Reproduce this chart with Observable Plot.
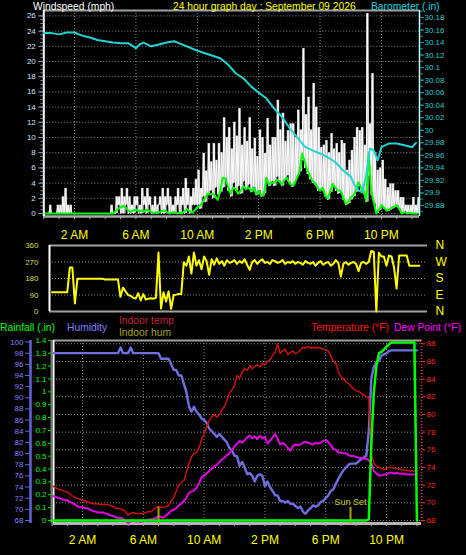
<!DOCTYPE html>
<html><head><meta charset="utf-8">
<script src="https://cdn.jsdelivr.net/npm/d3@7"></script>
<script src="https://cdn.jsdelivr.net/npm/@observablehq/plot@0.6"></script>
<style>
html,body{margin:0;padding:0;background:#000;}
#chart{position:relative;width:466px;height:555px;background:#000;overflow:hidden;}
#chart svg{position:absolute;left:0;top:0;}
</style></head><body><div id="chart"></div>
<script>
// ---------- DATA (10-minute slots, hour = index/6) ----------
const gustHi = [0,0,1.1,0,0,1.1,1.1,2.2,3.3,1.1, 1.1, 0,0,0,0,0,0,0,0,0,0,0,0,0,0,0, 1.1, 0,
 2.2,2.2,3.3,2.2,3.3,2.2,1.1,2.2,2.2,1.1,3.3,2.2,
 3.3,2.2,1.1,2.2,1.1,2.2,3.3,2.2,3.3,2.2,
 1.1,2.2,3.3,2.2,3.3,4.6,3.3,2.2,3.3,4.5,
 5.7,3.3,7.9,5.6,9.2,6.8,9.2,7.0,9.2,8.0,
 12.6,10.0,11.3,8.5,12.0,10.2,13.8,9.0,11.3,9.5,
 12.6,8.5,9.9,7.5,11.0,10.0,7.9,12.5,9.0,10.0,
 10.0,14.9,11.0,13.2,9.5,10.9,11.8,11.8,10.0,13.6,
 11.0,21.7,13.0,15.3,11.0,17.1,14.0,11.3,8.7,9.0,
 9.6,8.0,10.5,8.5,9.2,8.0,9.6,9.2,5.7,7.0,
 8.3,10.0,11.3,10.9,11.3,9.0,26.3,11.8,18.4,8.0,
 5.7,6.0,7.0,4.5,3.4,3.9,3.9,3.0,3.0,2.1,
 2.1,1.1,1.1,1.1,2.1,1.1,2.1];
const gustLo = [0,0,0,0,0,0,0,0,0,0,0,0,0,0,0,0,0,0,0,0,0,0,0,0,0,0,0,0,
 0,1.1,0,0,1.1,0,0,0,1.1,0,0,1.1,
 0,1.1,0,0,0,1.1,0,0,1.1,0,
 0,0,1.1,0,1.1,0,1.1,0,1.1,1.1,
 1.1,0.6,2.2,1.5,2.6,3.0,2.0,3.4,2.5,2.8,
 3.4,4.5,3.0,2.2,4.0,3.0,3.6,2.6,4.2,3.2,
 3.8,2.8,3.4,2.4,3.0,2.2,2.6,4.5,3.6,4.2,
 3.6,4.8,4.2,3.6,4.5,5.0,4.0,3.5,4.2,5.0,
 5.5,7.0,6.0,5.2,4.5,4.0,3.8,3.0,3.2,3.0,
 2.2,1.8,2.8,3.5,3.0,2.6,2.8,1.8,1.1,1.3,
 1.8,2.2,2.8,3.6,3.0,2.6,1.5,5.0,2.4,1.3,
 0,0.4,1.0,0.6,0.3,0.4,0.6,0.8,1.0,0.5,
 0,0.2,0,0,0,0,0];
const windAvg = [0,0,0,0,0,0,0,0,0,0,0,0,0,0,0,0,0,0,0,0,0,0,0,0,0,0,0,0,
 0.3,0.6,0.8,1.0,0.8,0.4,0.2,0.4,0.5,0.3,0.4,0.2,
 0.5,0.4,0.2,0.0,0.2,0.1,0.3,0.4,0.2,0.0,
 0.1,0.2,0.0,0.1,0.0,0.3,0.6,0.3,0.1,0.4,
 0.8,1.0,1.4,2.0,2.6,2.5,2.6,2.3,1.8,3.0,
 4.7,4.6,3.6,2.6,3.4,3.2,2.6,3.0,3.6,3.2,
 3.4,3.0,3.4,2.6,3.0,2.4,2.4,4.7,3.8,4.1,
 4.0,4.4,4.3,3.8,4.4,4.7,4.0,3.7,3.9,4.7,
 5.5,7.9,6.8,5.7,5.0,4.3,4.0,3.4,3.0,3.4,
 2.4,2.0,3.0,3.9,3.4,3.0,3.0,2.2,1.3,1.5,
 2.1,2.4,3.0,4.1,3.4,3.0,1.7,7.9,3.0,1.5,
 0.0,0.5,1.1,0.8,0.4,0.5,0.8,0.9,1.1,0.6,
 0.0,0.2,0.0,0.1,0.0,0.0,0.0];
const baroHours = [0,0.5,1,1.5,2,2.5,3,3.5,4,4.5,5,5.5,6,6.25,6.5,7,7.5,8,8.5,9,9.5,10,10.5,11,11.5,12,12.5,13,13.5,14,14.5,15,15.5,16,16.5,17,17.5,18,18.5,19,19.5,20,20.25,20.5,20.75,21,21.25,21.5,21.75,22,22.5,23,23.5,24,24.25];
const baroValues = [30.155,30.155,30.153,30.156,30.156,30.151,30.148,30.144,30.142,30.140,30.139,30.139,30.131,30.137,
 30.140,30.134,30.137,30.140,30.142,30.137,30.132,30.127,30.123,30.119,30.115,30.105,30.091,30.083,30.070,30.060,30.051,30.035,30.022,30.004,29.989,29.974,29.968,29.963,29.957,29.949,29.936,29.926,
 29.912,29.904,29.901,29.928,29.971,29.968,29.952,29.973,29.979,29.979,29.976,29.973,29.980];
const windDir = [105,105,105,105,105,105,105, 240,240, 44,
 178,178,178,178,178,178,178,178,178,178,178, 175,175,175,175,175,175,
 80,130,110,90,85,75,70,100,60,95,65,70,72,70,75,
 322,16,105,55,110,15,90,92,95,95,
 268,250,300,207,322,250,280,230,300,275,200,285,255,290,260,275,250,280,265,270,
 280,260,275,265,285,255,227,270,280,260, 275,285,265,270,260,280,275,265,270,280,
 260,270,265,275,260,270,265,255,275,265, 260,270,250,265,275,255,265,270,250,260,
 280,265,190,260,270,255,265,270,260,220, 265,270,260,270,
 330,325,0,320,300,300,250,305,300,240,125,305,305,305,305,250,250,250,250,250];
const humidity = [98,98,98,98,98,98,98,98,98,98,98,98,98,98,98,98,98,98,98,98,98,98,98,98,98,98,98,
 99,98,98,98,99,98,98, 98,98,98,98,98,98,98,98,98, 97,97,97,97,
 96,95,95,94,94,92.5,91,
 88.5,87.5,88.4,87.5,87,86.3,86,85.5,84.5,84,
 83.5,83,83.5,83,82.5,82,81,80.5,79.6,79.5,
 77.8,78.5,77.5,76.3,76.5,76,75,76,76.3,76,
 74.2,75,74,73.3,72.5,72.5,71.5,71.5,71.2,71.5,
 71,71,70.6,70.2,70.5,69.6,69.2,69.8,70.2,70.7,
 70.5,70.7,71.3,71.5,72,72.5,73.3,73.6,74.6,75.5,
 76.3,77,77.5,78,78.2,78.2,78.2,78.6,79,79.3,
 79.6,84,93.5,95.5,96.4,96.6,97.6,97.8,98,98.4,
 98.5,98.5,98.5,98.5,98.5,98.5,98.5,98.5,98.5,98.5,98.5];
const temperature = [71.9,71.8,71.6,71.5,71.4,71.3,71.2,71.0,70.8,70.6,
 70.5,70.4,70.3,70.2,70.1,70.0,69.9,69.9,69.9,69.8,
 69.8,69.8,69.8,69.7,69.6,69.4,69.4,69.3,69.2,69.0,
 68.6,68.8,68.9,68.8,68.8,68.8,68.8,68.9,69.0,69.0,
 69.2,69.5,69.6,69.5,69.5,69.6,69.7,70.2,70.6,71.3,
 72.0,72.3,72.5,73.5,74.4,75.2,75.6,75.7,76.2,77.2,
 77.8,78.6,79.3,79.7,80.0,79.7,80.0,80.5,80.9,81.6,
 82.4,82.8,83.3,84.4,84.1,84.8,85.2,85.0,85.5,85.2,
 85.4,85.6,85.4,85.8,85.6,86.0,86.2,86.7,87.0,88.0,
 86.9,87.2,87.4,86.8,87.0,87.2,86.9,87.0,87.3,87.6,
 87.5,87.7,87.5,87.6,87.5,87.6,87.5,87.4,87.3,87.2,
 86.6,86.0,85.8,84.8,84.3,84.0,83.7,83.5,83.2,82.9,
 82.7,82.6,82.4,82.2,82.0,81.9,75.5,74.5,74.2,74.0,
 73.9,73.8,73.9,74.0,74.0,73.9,73.9,73.8,73.8,73.7,
 73.7,73.6,73.6,73.6,73.6];
const dewPoint = [70.8,70.7,70.6,70.5,70.4,70.3,70.3,70.1,70.0,69.8,
 69.6,69.5,69.5,69.4,69.4,69.2,69.1,69.0,68.9,68.9,
 68.9,68.8,68.7,68.6,68.5,68.4,68.3,68.3,68.2,68.0,
 67.7,67.9,68.0,67.9,67.9,67.9,67.9,68.0,68.1,68.1,
 68.2,68.3,68.5,68.4,68.3,68.6,68.8,69.1,69.2,69.4,
 69.7,69.9,70.2,70.6,71.1,71.3,71.4,71.7,72.2,72.9,
 73.1,73.3,73.6,73.9,74.1,74.3,74.6,74.9,75.1,75.4,
 75.6,76.0,76.4,76.7,77.0,76.8,77.1,77.4,77.6,77.3,
 77.5,77.2,77.6,77.3,77.5,76.7,77.0,77.4,77.8,77.2,
 76.6,76.8,76.6,76.2,75.9,76.4,76.6,76.5,76.6,76.8,
 76.9,76.8,76.7,76.6,76.8,76.7,76.8,77.0,77.1,76.9,
 76.5,76.1,76.0,75.7,75.7,75.6,75.6,75.4,75.3,75.3,
 75.2,75.1,75.1,75.0,75.0,74.8,74.5,73.6,73.3,73.1,
 73.1,73.2,73.2,73.4,73.4,73.3,73.4,73.3,73.3,73.3,
 73.2,73.2,73.2,73.2,73.2];
const rainfall = [...Array(125).fill(0), 0.01,0.6,1.0,1.2,1.3,1.31,1.33,1.35,1.37,
 1.383,1.383,1.383,1.383,1.383,1.383,1.383,1.383,1.383,1.383, 0];
const sunEvents = [{h: 7.0, label: ""}, {h: 19.63, label: "Sun Set"}];

const hourTicks = d3.range(0, 25);
const labelHours = [2, 6, 10, 14, 18, 22];
const windTicks = [0,2,4,6,8,10,12,14,16,18,20,22,24,26];
const baroTicks = [29.88,29.9,29.92,29.94,29.96,29.98,30,30.02,30.04,30.06,30.08,30.1,30.12,30.14,30.16,30.18];
const dirTicks = [0,90,180,270,360];
const compass = ["N","E","S","W","N"];
const humTicks = [68,70,72,74,76,78,80,82,84,86,88,90,92,94,96,98,100];
const rainTicks = [0,0.1,0.2,0.3,0.4,0.5,0.6,0.7,0.8,0.9,1,1.1,1.2,1.3,1.4];
const tempTicks = [68,70,72,74,76,78,80,82,84,86,88];

// ---------- tables built from the arrays ----------
const slot = i => i / 6;
const gustBars = gustHi.map((v, i) => ({t: slot(i) + 1/12, lo: gustLo[i], hi: v}));
const gustZig = gustHi.flatMap((v, i) => [{t: slot(i), v: gustLo[i]}, {t: slot(i) + 1/12, v}]);
const avgRows = windAvg.map((v, i) => ({t: slot(i), v}));
const baroRows = baroHours.map((h, i) => ({t: h, v: baroValues[i]}));
const dirRows = windDir.map((v, i) => ({t: slot(i), v}));
const humRows = humidity.map((v, i) => ({t: slot(i), v}));
const tempRows = temperature.map((v, i) => ({t: slot(i), v}));
const dewRows = dewPoint.map((v, i) => ({t: slot(i), v}));
const rainRows = rainfall.map((v, i) => ({t: slot(i), v}));
const hourLabel = h => h < 12 ? `${h === 0 ? 12 : h} AM` : `${h === 12 ? 12 : h - 12} PM`;

// ---------- layout helpers ----------
const FONT = '"Liberation Sans", Arial, sans-serif';
const GRID = "#8a8a8a";
const dotted = {stroke: GRID, strokeDasharray: "1,2", strokeWidth: 1};
const chart = document.getElementById("chart");
function layer(opts) {
  const el = Plot.plot(Object.assign({width: 466, height: 555,
    style: {background: "transparent", fontFamily: FONT, overflow: "visible", maxWidth: "none"}}, opts));
  el.style.position = "absolute"; el.style.left = "0px"; el.style.top = "0px";
  chart.appendChild(el);
}
const blank = () => "";

// Panel 1 : wind + barometer
const X1 = [0, 24.48];
const WY = [-0.394, 26.71];
const BY = [29.8624, 30.1911];
const m1 = {marginLeft: 43.3, marginRight: 47, marginTop: 10, marginBottom: 339};
layer({...m1, x: {domain: X1, label: null}, y: {domain: WY, label: null},
  marks: [
    Plot.ruleY(windTicks, dotted),
    Plot.ruleX(labelHours, dotted),
    Plot.ruleX(gustBars, {x: "t", y1: "lo", y2: "hi", stroke: "#c4c4c4", strokeWidth: 2.6}),
    Plot.line(gustZig, {x: "t", y: "v", stroke: "#ffffff", strokeWidth: 1}),
    Plot.line(avgRows, {x: "t", y: "v", stroke: "#00ff00", strokeWidth: 2}),
    Plot.ruleY([WY[1]], {stroke: "#a0a0a0", strokeWidth: 2}),
    Plot.ruleY([WY[0]], {stroke: "#a8a8a8", strokeWidth: 2.5}),
    Plot.ruleX([X1[0]], {stroke: "#ffffff", strokeWidth: 2}),
    Plot.axisY({ticks: windTicks, label: null, tickSize: 5, tickPadding: 3, fontSize: 8, fill: "#cfe0ff", stroke: "#9aa8c8", tickFormat: d => String(d)}),
    Plot.axisY({ticks: d3.range(0, 26.5, 0.5), label: null, tickSize: 3, stroke: "#7a88a8", tickFormat: blank}),
    Plot.axisX({ticks: hourTicks, label: null, tickSize: 3, stroke: "#b0b0b0", tickFormat: blank}),
    Plot.axisX({ticks: labelHours, label: null, tickSize: 0, tickPadding: 14, fontSize: 12, fill: "#ffff00", tickFormat: hourLabel})
  ]});
layer({...m1, x: {domain: X1, axis: null, label: null}, y: {domain: BY, axis: null, label: null},
  marks: [
    Plot.line(baroRows, {x: "t", y: "v", stroke: "#22d4d4", strokeWidth: 2}),
    Plot.ruleX([X1[1]], {stroke: "#bff", strokeWidth: 1.5}),
    Plot.axisY({anchor: "right", label: null, ticks: baroTicks, tickSize: 4, tickPadding: 1, fontSize: 8, fill: "#22cccc", stroke: "#1aa0a0", tickFormat: d => String(+d.toFixed(2))}),
    Plot.axisY({anchor: "right", label: null, ticks: d3.range(29.87, 30.19, 0.01), tickSize: 3, stroke: "#1a9a9a", tickFormat: blank})
  ]});

// Panel 2 : wind direction
const X2 = [-0.17, 24.7];
layer({marginLeft: 49, marginRight: 39, marginTop: 245, marginBottom: 244,
  x: {domain: X2, axis: null, label: null}, y: {domain: [0, 360], label: null},
  marks: [
    Plot.ruleY([90, 180, 270], dotted),
    Plot.ruleY([0, 360], {stroke: "#a0a0a0", strokeWidth: 2}),
    Plot.ruleX([X2[0]], {stroke: "#ffffff", strokeWidth: 2}),
    Plot.line(dirRows, {x: "t", y: "v", stroke: "#ffff00", strokeWidth: 2}),
    Plot.axisY({ticks: dirTicks, label: null, tickSize: 0, tickPadding: 11, fontSize: 8, fill: "#d8d850", tickFormat: d => String(d)}),
    Plot.axisY({anchor: "right", label: null, ticks: dirTicks, tickSize: 0, tickPadding: 8, fontSize: 12, fill: "#ffff00", tickFormat: d => compass[dirTicks.indexOf(d)]})
  ]});

// Panel 3 : humidity, rainfall, temperature, dew point
const X3 = [0.09, 24.3];
const TY = [67.66, 88.37];
const HY = [67.46, 100.27];
const RY = [-0.0233, 1.399];
const m3 = {marginLeft: 53, marginRight: 45, marginTop: 340, marginBottom: 32};
layer({...m3, x: {domain: X3, label: null}, y: {domain: TY, label: null},
  marks: [
    Plot.ruleY(tempTicks, dotted),
    Plot.ruleX(labelHours, dotted),
    Plot.ruleY([TY[1]], {stroke: "#a0a0a0", strokeWidth: 2}),
    Plot.ruleY([TY[0]], {stroke: "#b4b4b4", strokeWidth: 3}),
    Plot.ruleX([X3[0]], {stroke: "#ffffff", strokeWidth: 2}),
    Plot.ruleX([X3[1]], {stroke: "#ff3030", strokeWidth: 1.5, strokeDasharray: "1,2"}),
    Plot.axisY({anchor: "right", label: null, ticks: tempTicks, tickSize: 3, tickPadding: 2, fontSize: 8, fill: "#ff2020", stroke: "#ff3030", tickFormat: d => String(d)}),
    Plot.axisX({ticks: hourTicks, label: null, tickSize: 3, stroke: "#b0b0b0", tickFormat: blank}),
    Plot.axisX({ticks: labelHours, label: null, tickSize: 0, tickPadding: 12, fontSize: 12, fill: "#ffff00", tickFormat: hourLabel})
  ]});
layer({...m3, x: {domain: X3, axis: null, label: null}, y: {domain: HY, axis: null, label: null},
  marks: [
    Plot.ruleX([X3[0]], {dx: -23, stroke: "#6464d8", strokeWidth: 2.5}),
    Plot.axisY({ticks: humTicks, label: null, dx: -23, tickSize: 5, tickPadding: 2, fontSize: 8, fill: "#8080ff", stroke: "#6464d8", tickFormat: d => String(d)}),
    Plot.line(humRows, {x: "t", y: "v", stroke: "#6f6fe0", strokeWidth: 2.4})
  ]});
layer({...m3, x: {domain: X3, axis: null, label: null}, y: {domain: TY, axis: null, label: null},
  marks: [
    Plot.line(tempRows, {x: "t", y: "v", stroke: "#cc0e0e", strokeWidth: 1.5}),
    Plot.line(dewRows, {x: "t", y: "v", stroke: "#e400e4", strokeWidth: 2}),
    Plot.ruleX(sunEvents, {x: "h", y1: 67.6, y2: 69.5, stroke: "#a8a000", strokeWidth: 2}),
    Plot.text(sunEvents, {x: "h", y: 69.7, text: "label", fill: "#c8c820", fontSize: 9, lineAnchor: "bottom"})
  ]});
layer({...m3, x: {domain: X3, axis: null, label: null}, y: {domain: RY, axis: null, label: null},
  marks: [
    Plot.ruleX([X3[0]], {dx: -2, stroke: "#6c806c", strokeWidth: 2}),
    Plot.axisY({ticks: rainTicks, label: null, dx: -2, tickSize: 3, tickPadding: 2, fontSize: 8, fill: "#00ff00", stroke: "#00e000", tickFormat: d => String(+d.toFixed(1))}),
    Plot.line(rainRows, {x: "t", y: "v", stroke: "#00ff00", strokeWidth: 2.5})
  ]});

// ---------- header texts ----------
const headers = [
  {text: "Windspeed (mph)", x: 33, y: 9.5, fill: "#ffffff"},
  {text: "24 hour graph day : September 09 2026", x: 173, y: 9.5, fill: "#ffff00"},
  {text: "Barometer (.in)", x: 371, y: 9.5, fill: "#22d4e4"},
  {text: "Rainfall (.in)", x: 0, y: 331, fill: "#00ff00"},
  {text: "Humidity", x: 67, y: 331, fill: "#8080ff"},
  {text: "Indoor temp", x: 119, y: 323.5, fill: "#c0203a"},
  {text: "Indoor hum", x: 119, y: 336, fill: "#a8a020"},
  {text: "Temperature (°F)", x: 311, y: 331, fill: "#ff1010"},
  {text: "Dew Point (°F)", x: 394, y: 331, fill: "#ff00ff"}
];
const hdr = d3.select(chart).append("svg").attr("width", 466).attr("height", 555)
  .style("position", "absolute").style("left", "0px").style("top", "0px");
hdr.selectAll("text").data(headers).join("text")
  .attr("x", d => d.x).attr("y", d => d.y).attr("fill", d => d.fill)
  .attr("font-family", FONT).attr("font-size", 10.3).text(d => d.text);
</script></body></html>
